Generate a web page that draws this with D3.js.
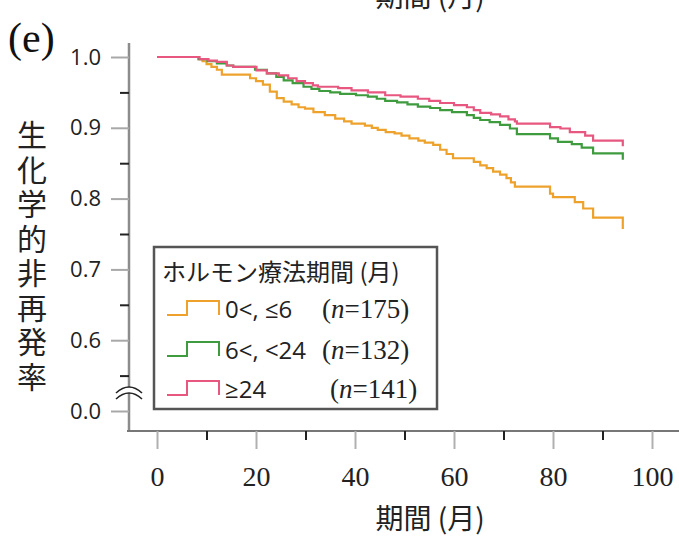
<!DOCTYPE html>
<html>
<head>
<meta charset="utf-8">
<script src="https://cdn.jsdelivr.net/npm/d3@7"></script>
<style>
  body { margin: 0; background: #fff; }
  svg { display: block; }
</style>
</head>
<body>
<div id="chart"></div>
<script>
// Kaplan-Meier style step data [month, survival]
var orangeSteps = [[0,1],[8.4,0.997],[9.2,0.994],[10,0.990],[11,0.986],[12.1,0.982],[13.1,0.975],[18.8,0.970],[20,0.966],[21.4,0.961],[22.8,0.951],[24.2,0.942],[25.6,0.937],[27.2,0.933],[28.6,0.929],[29.9,0.927],[31.6,0.922],[33.9,0.918],[36,0.913],[37.8,0.909],[39.3,0.906],[42,0.903],[43.4,0.900],[44.6,0.897],[46.2,0.894],[48,0.892],[49.4,0.889],[51,0.885],[52.8,0.882],[54.1,0.879],[55.8,0.876],[57.2,0.869],[58.5,0.863],[59.8,0.857],[64,0.852],[65.3,0.847],[66.6,0.843],[67.9,0.838],[69.3,0.834],[70.6,0.829],[71.5,0.823],[72.3,0.817],[79.4,0.807],[80,0.802],[84.4,0.795],[86.1,0.786],[88.1,0.773],[94.1,0.757]]
var greenSteps = [[0,1],[8.4,0.997],[10.2,0.994],[12.1,0.991],[14.1,0.988],[15.4,0.986],[19.8,0.982],[22.2,0.977],[24.1,0.972],[25.6,0.967],[27.4,0.963],[29.6,0.958],[31.2,0.955],[32.8,0.952],[35,0.950],[37,0.948],[40.2,0.946],[42.6,0.944],[44.4,0.941],[46.1,0.938],[48.5,0.936],[50.6,0.933],[52.7,0.930],[55.2,0.928],[57.2,0.925],[59.6,0.922],[62.6,0.918],[64,0.914],[65.3,0.911],[67.2,0.908],[69.3,0.904],[71.3,0.899],[72.7,0.891],[79.4,0.885],[81,0.880],[83.8,0.877],[85.8,0.872],[88.1,0.864],[94.1,0.855]]
var pinkSteps = [[0,1],[8.6,0.997],[10.4,0.995],[12.1,0.993],[14.1,0.988],[15.4,0.986],[20.1,0.981],[22.2,0.977],[24.6,0.974],[26.5,0.970],[28.2,0.966],[29.9,0.963],[31.5,0.960],[32.5,0.958],[36.6,0.956],[39.3,0.953],[42.6,0.950],[46.1,0.946],[49.2,0.944],[52.7,0.941],[55,0.938],[57.2,0.935],[60,0.932],[62.6,0.929],[64,0.925],[65.3,0.921],[67.5,0.919],[69.3,0.916],[71,0.912],[72.3,0.909],[72.7,0.906],[79.4,0.901],[81.5,0.899],[83.4,0.894],[86.5,0.889],[88.1,0.882],[94.1,0.874]]

var seriesNames = ['0<, ≤6', '6<, <24', '≥24']
var seriesN = ['175', '132', '141']
var seriesColors = ['#eea22c', '#3e9b3e', '#e8577f']

var xMajor = [0, 20, 40, 60, 80, 100]
var xMinor = [10, 30, 50, 70, 90]
var yMajor = [1.0, 0.9, 0.8, 0.7, 0.6, 0.5]
var yMajorLabels = ['1.0', '0.9', '0.8', '0.7', '0.6', '0.0']
var yMinor = [0.95, 0.85, 0.75, 0.65, 0.55]

var w = 679, h = 536

var svg = d3.select('#chart')
  .append('svg')
  .attr('width', w)
  .attr('height', h)

var x = d3.scaleLinear().domain([0, 100]).range([157, 652])
var y = d3.scaleLinear().domain([0.5, 1.0]).range([411, 57])

var axisX = 129, axisY = 431
var jp = "'Noto Sans CJK JP', sans-serif"

// y axis line (with break)
svg.append('line')
  .attr('x1', axisX).attr('x2', axisX)
  .attr('y1', 43).attr('y2', axisY)
  .style('stroke', '#8c8c8c').style('stroke-width', 2.5)

// x axis line
svg.append('line')
  .attr('x1', 127).attr('x2', w)
  .attr('y1', axisY).attr('y2', axisY)
  .style('stroke', '#777').style('stroke-width', 2)

// y ticks
var yAxisMajor = d3.axisLeft(y)
  .tickValues(yMajor)
  .tickSize(18)
  .tickPadding(10)
  .tickFormat(function(d, i) { return yMajorLabels[i] })

var gy = svg.append('g')
  .attr('transform', 'translate(' + axisX + ',0)')
  .call(yAxisMajor)
gy.select('.domain').remove()
gy.selectAll('line').style('stroke', '#a8a8a8').style('stroke-width', 2)
gy.selectAll('text')
  .style('font-family', "'Open Sans', 'Liberation Sans', sans-serif")
  .style('font-size', '22px')
  .style('fill', '#222')

var gy2 = svg.append('g')
  .attr('transform', 'translate(' + axisX + ',0)')
  .call(d3.axisLeft(y).tickValues(yMinor).tickSize(9).tickFormat(''))
gy2.select('.domain').remove()
gy2.selectAll('line').style('stroke', '#222').style('stroke-width', 2)

// x ticks
var gx = svg.append('g')
  .attr('transform', 'translate(0,' + axisY + ')')
  .call(d3.axisBottom(x).tickValues(xMajor).tickSize(18).tickPadding(17))
gx.select('.domain').remove()
gx.selectAll('line').style('stroke', '#b0b0b0').style('stroke-width', 2)
gx.selectAll('text')
  .style('font-family', "'Liberation Serif', 'DejaVu Serif', serif")
  .style('font-size', '28px')
  .style('fill', '#222')

var gx2 = svg.append('g')
  .attr('transform', 'translate(0,' + axisY + ')')
  .call(d3.axisBottom(x).tickValues(xMinor).tickSize(9).tickFormat(''))
gx2.select('.domain').remove()
gx2.selectAll('line').style('stroke', '#222').style('stroke-width', 2)

// axis break symbol
svg.append('path')
  .attr('d', 'M116,393 Q129,381 142,393 L142,399 Q129,387 116,399 Z')
  .style('fill', '#fff')
  .style('stroke', 'none')
svg.append('path')
  .attr('d', 'M116,393 Q129,381 142,393')
  .style('fill', 'none').style('stroke', '#222').style('stroke-width', 1.6)
svg.append('path')
  .attr('d', 'M116,399 Q129,387 142,399')
  .style('fill', 'none').style('stroke', '#222').style('stroke-width', 1.6)

// curves
var line = d3.line()
  .x(function(d) { return x(d[0]) })
  .y(function(d) { return y(d[1]) })
  .curve(d3.curveStepAfter)

var allSteps = [orangeSteps, greenSteps, pinkSteps]
svg.selectAll('.km')
  .data(allSteps)
  .enter()
  .append('path')
  .attr('class', 'km')
  .attr('d', line)
  .style('fill', 'none')
  .style('stroke', function(d, i) { return seriesColors[i] })
  .style('stroke-width', 2.2)

// legend
var legend = svg.append('g')
legend.append('rect')
  .attr('x', 154).attr('y', 247)
  .attr('width', 283).attr('height', 162)
  .style('fill', '#fff')
  .style('stroke', '#555')
  .style('stroke-width', 2.5)

legend.append('text')
  .attr('x', 162).attr('y', 281)
  .text('ホルモン療法期間 (月)')
  .style('font-family', jp)
  .style('font-size', '24px')
  .style('fill', '#222')

var rowY = [309, 350, 389]
var rows = legend.selectAll('.row')
  .data(seriesNames)
  .enter()
  .append('g')
  .attr('transform', function(d, i) { return 'translate(0,' + rowY[i] + ')' })

rows.append('path')
  .attr('d', 'M167,6 L187,6 L187,-8 L219,-8 L219,6')
  .style('fill', 'none')
  .style('stroke', function(d, i) { return seriesColors[i] })
  .style('stroke-width', 2)

rows.append('text')
  .attr('x', 225).attr('y', 9)
  .text(function(d) { return d })
  .style('font-family', "'Open Sans', 'Liberation Sans', sans-serif")
  .style('font-size', '24px')
  .style('fill', '#222')

var nText = rows.append('text')
  .attr('x', function(d, i) { return i == 2 ? 330 : 322 })
  .attr('y', 9)
  .style('font-family', "'Liberation Serif', 'DejaVu Serif', serif")
  .style('font-size', '27px')
  .style('fill', '#222')
nText.append('tspan').text('(')
nText.append('tspan').text('n').style('font-style', 'italic')
nText.append('tspan').text(function(d, i) { return '=' + seriesN[i] + ')' })

// titles
svg.append('text')
  .attr('x', 430).attr('y', 529)
  .attr('text-anchor', 'middle')
  .text('期間 (月)')
  .style('font-family', jp)
  .style('font-size', '28px')
  .style('fill', '#222')

svg.append('text')
  .attr('x', 430).attr('y', 7)
  .attr('text-anchor', 'middle')
  .text('期間 (月)')
  .style('font-family', jp)
  .style('font-size', '28px')
  .style('fill', '#222')

// vertical y label
svg.append('text')
  .attr('x', 32).attr('y', 120)
  .text('生化学的非再発率')
  .style('writing-mode', 'vertical-rl')
  .style('text-orientation', 'upright')
  .style('letter-spacing', '4.5px')
  .style('font-family', jp)
  .style('font-size', '30px')
  .style('fill', '#222')

svg.append('text')
  .attr('x', 8).attr('y', 52)
  .text('(e)')
  .style('font-family', "'Liberation Serif', 'DejaVu Serif', serif")
  .style('font-size', '42px')
  .style('fill', '#111')
</script>
</body>
</html>
